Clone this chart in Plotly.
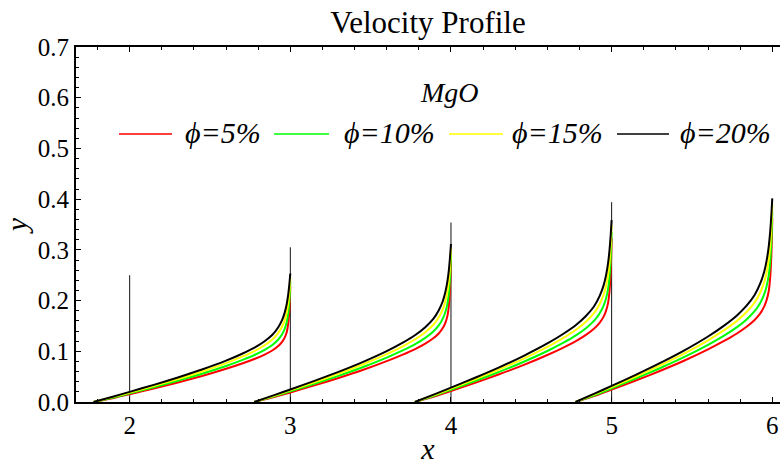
import plotly.graph_objects as go

# ---------------- data ----------------
# distance back from the right end of each profile segment
offsets = [1.225, 1.1, 1.0, 0.85, 0.7, 0.55, 0.4, 0.3, 0.22, 0.16, 0.11,
           0.075, 0.05, 0.035, 0.022, 0.013, 0.006, 0.002, 0.0]
segment_ends = [3, 4, 5, 6]

phi_labels = ["ϕ=5%", "ϕ=10%", "ϕ=15%", "ϕ=20%"]
phi_colors = ["#ff0000", "#00ff00", "#ffff00", "#000000"]

# velocity values per segment (segments ending at x = 3, 4, 5, 6)
phi5 = [
    [0, .0079, .0153, .0267, .0386, .0513, .0655, .0759, .0853, .0936, .1021, .1103, .1189, .1270, .1381, .1551, .1816, .2094, .2283],
    [0, .0097, .0189, .0328, .0474, .0631, .0806, .0934, .1048, .1151, .1256, .1356, .1463, .1562, .1698, .1907, .2233, .2575, .2808],
    [0, .0112, .0217, .0378, .0546, .0726, .0927, .1074, .1206, .1324, .1445, .1561, .1683, .1798, .1954, .2195, .2570, .2963, .3231],
    [0, .0125, .0243, .0423, .0611, .0813, .1038, .1203, .1351, .1483, .1618, .1748, .1885, .2013, .2188, .2458, .2878, .3318, .3618],
]
phi10 = [
    [0, .0090, .0170, .0292, .0420, .0557, .0711, .0826, .0931, .1028, .1130, .1233, .1342, .1443, .1576, .1750, .1992, .2224, .2371],
    [0, .0111, .0209, .0359, .0516, .0685, .0875, .1016, .1145, .1264, .1389, .1516, .1650, .1774, .1938, .2152, .2450, .2735, .2915],
    [0, .0128, .0240, .0414, .0594, .0789, .1006, .1169, .1318, .1455, .1599, .1745, .1899, .2041, .2230, .2476, .2819, .3147, .3355],
    [0, .0143, .0269, .0463, .0665, .0883, .1127, .1309, .1476, .1629, .1790, .1954, .2126, .2286, .2497, .2773, .3157, .3524, .3757],
]
phi15 = [
    [0, .0101, .0186, .0317, .0454, .0602, .0767, .0894, .1010, .1119, .1238, .1363, .1494, .1614, .1771, .1949, .2168, .2354, .2459],
    [0, .0124, .0229, .0390, .0559, .0740, .0944, .1099, .1242, .1377, .1523, .1676, .1837, .1985, .2178, .2397, .2666, .2895, .3024],
    [0, .0143, .0263, .0448, .0643, .0852, .1086, .1265, .1429, .1584, .1752, .1929, .2114, .2284, .2506, .2759, .3068, .3331, .3480],
    [0, .0160, .0295, .0502, .0720, .0954, .1216, .1416, .1600, .1774, .1962, .2160, .2367, .2558, .2806, .3089, .3435, .3730, .3897],
]
phi20 = [
    [0, .0110, .0200, .0338, .0483, .0640, .0815, .0951, .1077, .1198, .1331, .1475, .1624, .1762, .1938, .2120, .2318, .2465, .2534],
    [0, .0136, .0246, .0416, .0594, .0787, .1003, .1169, .1325, .1474, .1637, .1814, .1997, .2167, .2383, .2607, .2851, .3031, .3116],
    [0, .0156, .0283, .0479, .0684, .0906, .1154, .1346, .1524, .1696, .1883, .2087, .2299, .2493, .2742, .3000, .3281, .3488, .3586],
    [0, .0175, .0317, .0536, .0766, .1014, .1292, .1507, .1707, .1899, .2109, .2337, .2574, .2792, .3071, .3359, .3674, .3906, .4016],
]
series = [phi5, phi10, phi15, phi20]

vline_x = [2, 3, 4, 5]
vline_top = [0.25, 0.305, 0.354, 0.394]

x_ticks = [2, 3, 4, 5, 6]
y_ticks = [0.0, 0.1, 0.2, 0.3, 0.4, 0.5, 0.6, 0.7]

# ---------------- figure ----------------
SERIF = "Liberation Serif, Times New Roman, serif"
fig = go.Figure()

for vx, vt in zip(vline_x, vline_top):
    fig.add_trace(go.Scatter(x=[vx, vx], y=[0, vt], mode="lines",
                             line=dict(color="#111111", width=1),
                             showlegend=False, hoverinfo="skip"))

for vals, color, label in zip(series, phi_colors, phi_labels):
    for end, seg in zip(segment_ends, vals):
        xs = [end - d for d in offsets]
        fig.add_trace(go.Scatter(x=xs, y=seg, mode="lines",
                                 line=dict(color=color, width=2, shape="spline", smoothing=0.6),
                                 name=label, showlegend=False))

# manual legend (long sample lines like the reference)
leg_line = [(0.0611, 0.1364), (0.2813, 0.3594), (0.5298, 0.6065), (0.7685, 0.8423)]
leg_text_x = [0.152, 0.378, 0.6165, 0.855]
for (x0, x1), tx, color, label in zip(leg_line, leg_text_x, phi_colors, phi_labels):
    fig.add_shape(type="line", xref="paper", yref="paper", x0=x0, x1=x1,
                  y0=0.755, y1=0.755, line=dict(color=color, width=1.5))
    fig.add_annotation(xref="paper", yref="paper", x=tx, y=0.760,
                       text="<i>" + label + "</i>", showarrow=False,
                       xanchor="left", yanchor="middle",
                       font=dict(family=SERIF, size=30, color="black"))

fig.add_annotation(xref="paper", yref="paper", x=0.531, y=0.872, text="<i>MgO</i>",
                   showarrow=False, xanchor="center", yanchor="middle",
                   font=dict(family=SERIF, size=28, color="black"))

fig.update_layout(
    width=780, height=466,
    margin=dict(l=76, r=0, t=47, b=64),
    paper_bgcolor="white", plot_bgcolor="white",
    title=dict(text="Velocity Profile", x=0.5, xref="paper", y=1 - 22 / 466,
               yref="container", xanchor="center", yanchor="middle",
               font=dict(family=SERIF, size=31, color="black")),
    font=dict(family=SERIF, color="black"),
)
fig.update_xaxes(range=[1.666, 6.048], showgrid=False, zeroline=False,
                 showline=True, linecolor="black", linewidth=2, mirror="allticks",
                 ticks="inside", ticklen=5, tickcolor="black", tickwidth=1,
                 tickvals=x_ticks, ticktext=[str(v) for v in x_ticks],
                 tickfont=dict(family=SERIF, size=25),
                 minor=dict(dtick=0.2, ticks="inside", ticklen=3, tickcolor="black", tickwidth=1),
                 title=dict(text="<i>x</i>", font=dict(family=SERIF, size=30), standoff=0))
fig.update_yaxes(range=[0, 0.7], showgrid=False, zeroline=False,
                 showline=True, linecolor="black", linewidth=2, mirror=False,
                 ticks="inside", ticklen=5, tickcolor="black", tickwidth=1,
                 tickvals=y_ticks, ticktext=["%.1f" % v for v in y_ticks],
                 tickfont=dict(family=SERIF, size=25),
                 minor=dict(dtick=0.02, ticks="inside", ticklen=3, tickcolor="black", tickwidth=1),
                 title=dict(text="<i>y</i>", font=dict(family=SERIF, size=30), standoff=3))

fig.write_html("out.html")
